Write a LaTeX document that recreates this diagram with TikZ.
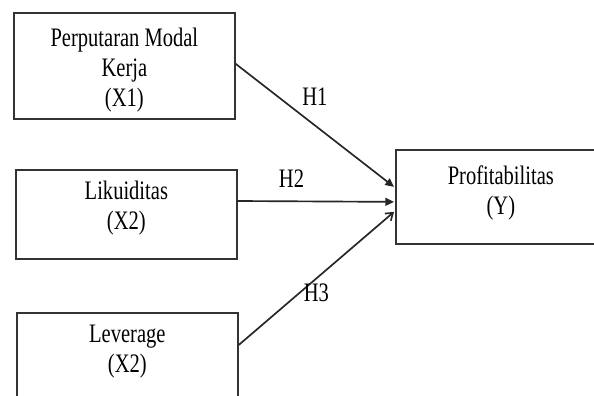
\documentclass[tikz,border=0pt]{standalone}
\usepackage{fontspec}
\setmainfont[FakeStretch=0.77]{Liberation Serif}
\usetikzlibrary{calc,positioning,arrows.meta}

\begin{document}
\begin{tikzpicture}[x=0.75pt, y=-0.75pt, align=center,
    box/.style={draw=black!80, line width=1.3pt, inner sep=0pt, anchor=north west},
    txt/.style={inner sep=0pt, font=\fontsize{20}{22.5}\selectfont},
    link/.style={draw=black!85, line width=1.25pt}]
    \fill[white] (0,0) rectangle (594,396);
    \useasboundingbox (0,0) rectangle (594,396);
    \clip (0,0) rectangle (594,396);

    % variabel X
    \node[box, minimum width=165.75pt, minimum height=79.5pt] (x1) at (13,12) {};
    \node[txt, below=12pt of x1.north] (x1_text) {Perputaran Modal\\Kerja\\(X1)};
    \node[box, minimum width=165.75pt, minimum height=66.75pt] (x2) at (15,169) {};
    \node[txt, below=9pt of x2.north] (x2_text) {Likuiditas\\(X2)};
    \node[box, minimum width=165.75pt, minimum height=97.5pt] (x3) at (16,312) {};
    \node[txt, below=9.75pt of x3.north] (x3_text) {Leverage\\(X2)};

    % variabel Y
    \node[box, minimum width=157.5pt, minimum height=70.5pt] (y) at (395,149) {};
    \node[txt, below=12pt of y.north] (y_text) {Profitabilitas\\(Y)};

    \draw[link, -{Triangle[length=6.5pt, width=6pt]}] ($(x1.east)+(0,-2)$) -- node[txt, pos=0.5, above=14pt] (h1) {H1} ($(y.west)+(-1,-10)$);
    \draw[link, -{Triangle[length=6.5pt, width=6pt]}] ($(x2.north east)+(0,32)$) -- node[txt, pos=0.344, above=9.75pt] (h2) {H2} ($(y.west)+(-1,5)$);
    \draw[link, -{Straight Barb[length=5pt, width=7pt]}] ($(x3.north east)+(0,33)$) -- node[txt, pos=0.5, below=3.75pt] (h3) {H3} ($(y.west)+(-1,15)$);
\end{tikzpicture}
\end{document}
